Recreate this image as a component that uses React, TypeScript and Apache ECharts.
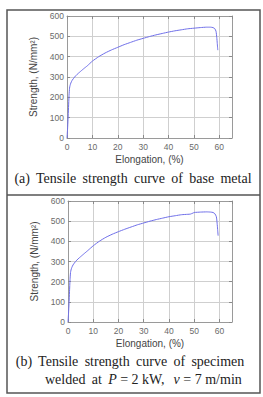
import React, { useEffect, useRef } from "react";
import * as echarts from "echarts";

const elongA = [0, 0.2, 0.4, 0.6, 0.8, 1.0, 1.2, 1.5, 2, 3, 4, 5, 6.5, 8, 10, 12.5, 15, 17.5, 20, 22.5, 25, 27.5, 30, 32.5, 35, 37.5, 40, 42.5, 45, 47.5, 50, 52.5, 55, 56.5, 57.5, 58.2, 58.7, 59.0, 59.2, 59.4];
const strengthA = [0, 40, 90, 150, 210, 245, 258, 270, 283, 300, 313, 324, 340, 355, 378, 400, 418, 433, 446, 459, 470, 481, 490, 499, 507, 514, 521, 527, 532, 537, 540, 543, 545, 545, 543, 538, 525, 495, 465, 432];

const elongB = [0, 0.2, 0.4, 0.6, 0.8, 1.0, 1.2, 1.5, 2, 3, 4, 5, 6.5, 8, 10, 12.5, 15, 17.5, 20, 22.5, 25, 27.5, 30, 32.5, 35, 37.5, 40, 42.5, 45, 47.5, 48.5, 49.5, 50, 52.5, 55, 56.5, 57.5, 58.2, 58.8, 59.1, 59.3, 59.5];
const strengthB = [0, 40, 90, 150, 210, 245, 258, 270, 283, 300, 313, 324, 340, 356, 378, 401, 420, 435, 448, 460, 471, 482, 491, 500, 508, 515, 522, 527, 532, 534, 535, 540, 543, 545, 546, 545, 543, 537, 522, 490, 460, 428];

const xTicks = [0, 10, 20, 30, 40, 50, 60];
const yTicks = [0, 100, 200, 300, 400, 500, 600];

const captionA = "(a)\u2009 Tensile\u2009 strength\u2009 curve\u2009 of\u2009 base\u2009 metal";
const captionB1 = "(b)\u2009 Tensile\u2009 strength\u2009 curve\u2009 of\u2009 specimen";

export default function App() {
  const ref = useRef<HTMLDivElement>(null);
  useEffect(() => {
    document.body.style.margin = "0";
    const chart = echarts.init(ref.current!, null, { renderer: "svg" });
    const sans = "Liberation Sans, Arial, sans-serif";
    const serif = "Liberation Serif, Times New Roman, serif";
    const labelColor = "#6a6a6a";
    const gridLine = () => ({ show: true, lineStyle: { color: "#cfcfcf", width: 1, type: "solid" as const } });
    const mkX = (gi: number, pos: "bottom" | "top", main: boolean) => ({
      type: "value" as const,
      gridIndex: gi,
      position: pos,
      min: 0,
      max: 65,
      interval: 10,
      name: main ? "Elongation, (%)" : "",
      nameLocation: "middle" as const,
      nameGap: 16,
      nameTextStyle: { fontFamily: sans, fontSize: 10, color: "#444" },
      axisLine: { show: true, onZero: false, lineStyle: { color: "#9a9a9a", width: 1 } },
      axisTick: { show: true, inside: true, length: 3, lineStyle: { color: "#8a8a8a" } },
      axisLabel: { show: main, fontFamily: sans, fontSize: 8.5, color: labelColor, margin: 4, showMaxLabel: false },
      splitLine: gridLine(),
    });
    const mkY = (gi: number, pos: "left" | "right", main: boolean) => ({
      type: "value" as const,
      gridIndex: gi,
      position: pos,
      min: 0,
      max: 600,
      interval: 100,
      name: main ? "Strength, (N/mm\u00B2)" : "",
      nameLocation: "middle" as const,
      nameGap: 22,
      nameTextStyle: { fontFamily: sans, fontSize: 10, color: "#444" },
      axisLine: { show: true, onZero: false, lineStyle: { color: "#9a9a9a", width: 1 } },
      axisTick: { show: true, inside: true, length: 3, lineStyle: { color: "#8a8a8a" } },
      axisLabel: { show: main, fontFamily: sans, fontSize: 8.5, color: labelColor, margin: 3 },
      splitLine: gridLine(),
    });
    const line = (xi: number, yi: number, xs: number[], ys: number[]) => ({
      type: "line" as const,
      xAxisIndex: xi,
      yAxisIndex: yi,
      data: xs.map((x, i) => [x, ys[i]]),
      showSymbol: false,
      smooth: 0.2,
      lineStyle: { color: "#6e6ee8", width: 1 },
      silent: true,
    });
    chart.setOption({
      animation: false,
      backgroundColor: "#fff",
      grid: [
        { left: 67, top: 16, width: 165, height: 122 },
        { left: 68, top: 201, width: 164, height: 121 },
      ],
      xAxis: [mkX(0, "bottom", true), mkX(0, "top", false), mkX(1, "bottom", true), mkX(1, "top", false)],
      yAxis: [mkY(0, "left", true), mkY(0, "right", false), mkY(1, "left", true), mkY(1, "right", false)],
      series: [line(0, 0, elongA, strengthA), line(2, 2, elongB, strengthB)],
      graphic: [
        { type: "rect", shape: { x: 7, y: 10, width: 253, height: 383 }, style: { fill: "none", stroke: "#555", lineWidth: 1.5 }, silent: true },
        { type: "line", shape: { x1: 7, y1: 195, x2: 260, y2: 195 }, style: { stroke: "#555", lineWidth: 1.5 }, silent: true },
        { type: "text", x: 133, y: 178, style: { text: captionA, font: `14px ${serif}`, fill: "#222", textAlign: "center", textVerticalAlign: "middle" } },
        { type: "text", x: 130, y: 361, style: { text: captionB1, font: `14px ${serif}`, fill: "#222", textAlign: "center", textVerticalAlign: "middle" } },
        {
          type: "text", x: 45, y: 379,
          style: {
            text: "welded\u2009 at\u2009 {i|P} = 2 kW,\u2009\u2009 {i|v} = 7 m/min",
            font: `14px ${serif}`, fill: "#222", textAlign: "left", textVerticalAlign: "middle",
            rich: { i: { fontStyle: "italic", fontFamily: serif, fontSize: 14, fill: "#222" } },
          },
        },
      ],
    });
    return () => chart.dispose();
  }, []);
  return <div ref={ref} style={{ position: "absolute", left: 0, top: 0, width: 263, height: 397 }} />;
}
